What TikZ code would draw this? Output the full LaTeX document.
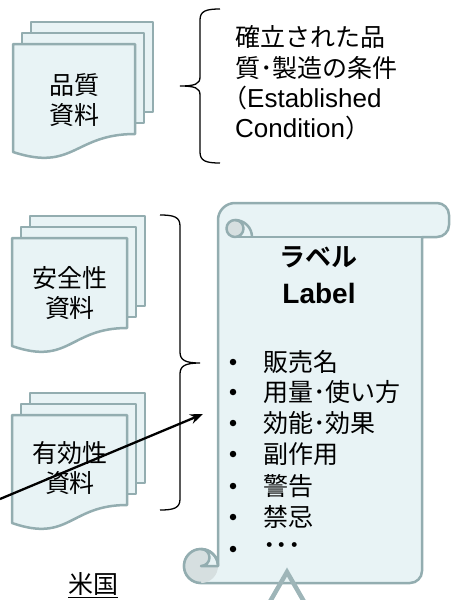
\documentclass[tikz,border=0pt]{standalone}
\usepackage{fontspec}
\setmainfont{Liberation Sans}
\newfontfamily\jp{Noto Sans CJK JP}[BoldFont={Noto Sans CJK JP Bold}]
\usetikzlibrary{arrows.meta}
\definecolor{docfill}{HTML}{E8F3F5}
\definecolor{docline}{HTML}{93ADB0}
\definecolor{curlfill}{HTML}{D6DFE0}
\newcommand\mydocstack[3]{%
  \filldraw[pagesty] (#1+18,#2-22) rectangle (#1+18+#3,#2+68);
  \filldraw[pagesty] (#1+9,#2-11) rectangle (#1+9+#3,#2+79);
  \filldraw[pagesty] (#1,#2) -- (#1+#3,#2) -- (#1+#3,#2+90)
    .. controls (#1+#3/2,#2+90) and (#1+#3/2,#2+128) .. (#1,#2+108) -- cycle;
}
\begin{document}
\begin{tikzpicture}[x=1pt,y=-1pt,
  pagesty/.style={fill=docfill,draw=docline,line width=2.5pt,line join=round},
  scrollsty/.style={fill=docfill,draw=docline,line width=2.5pt,line join=round},
  curlsty/.style={fill=curlfill,draw=docline,line width=2.5pt,line join=round},
  jptext/.style={font=\jp\fontsize{25}{30}\selectfont,inner sep=0pt},
  entext/.style={font=\fontsize{26}{30}\selectfont,inner sep=0pt},
  bracesty/.style={draw=black,line width=1.3pt},
  bulletdot/.style={circle,fill=black,inner sep=0pt,minimum size=6.5pt},
  ]
\useasboundingbox (0,0) rectangle (451,600);

% document stacks
\mydocstack{13}{44}{122}
\mydocstack{12}{238}{115}
\mydocstack{12}{415}{115}

\node[jptext] (q1) at (74,85) {品質};
\node[jptext] (q2) at (74,115) {資料};
\node[jptext] (s1) at (70,278) {安全性};
\node[jptext] (s2) at (70,308) {資料};
\node[jptext] (e1) at (70,453) {有効性};
\node[jptext] (e2) at (70,483) {資料};

% brace 1
\draw[bracesty] (220,9) .. controls (206,9) and (200,11) .. (200,20) -- (200,77)
  .. controls (200,84) and (195,86) .. (180,86)
  .. controls (195,86) and (200,88) .. (200,95) -- (200,152)
  .. controls (200,161) and (206,163) .. (220,163);
% brace 2
\draw[bracesty] (160,215) .. controls (174,215) and (180,217) .. (180,226) -- (180,352)
  .. controls (180,360) and (185,363) .. (200,363)
  .. controls (185,363) and (180,366) .. (180,374) -- (180,499)
  .. controls (180,508) and (174,510) .. (160,510);

\node[jptext,anchor=west] (c1) at (235,37) {確立された品};
\node[jptext,anchor=west] (c2) at (235,68) {質･製造の条件};
\node[entext,anchor=west] (c3) at (222,98) {{\jp\fontsize{25}{30}\selectfont （}Established};
\node[entext,anchor=west] (c4) at (235,128) {Condition{\jp\fontsize{25}{30}\selectfont ）}};

% scroll
\draw[scrollsty] (218,566) -- (218,220) arc[start angle=180,end angle=270,radius=17]
  -- (437,203) arc[start angle=270,end angle=360,radius=12]
  -- (449,225) arc[start angle=0,end angle=90,radius=12]
  -- (422,237) -- (422,571) arc[start angle=0,end angle=90,radius=12]
  -- (201,583) arc[start angle=90,end angle=360,radius=17] -- cycle;
\draw[docline,line width=2.5pt] (235,237) -- (422,237);
% top curl
\draw[curlsty] (235,228.5) circle[radius=8.5];
\draw[docline,line width=2.5pt] (235,220) arc[start angle=270,end angle=360,radius=17];
% bottom curl
\fill[curlfill] (201,583) arc[start angle=90,end angle=270,radius=17]
  arc[start angle=270,end angle=450,radius=8.5] -- (218,566)
  arc[start angle=0,end angle=90,radius=17] -- cycle;
\draw[docline,line width=2.5pt] (201,583) arc[start angle=90,end angle=360,radius=17];
\draw[docline,line width=2.5pt,line join=round] (201,549) arc[start angle=270,end angle=450,radius=8.5] -- (218,566);

\node[font=\jp\bfseries\fontsize{26}{30}\selectfont,inner sep=0pt] (lbl1) at (318,257) {ラベル};
\node[font=\bfseries\fontsize{28}{30}\selectfont,inner sep=0pt,anchor=base] (lbl2) at (319,303) {Label};

\node[bulletdot] (b1) at (233,362) {};
\node[bulletdot] (b2) at (233,392) {};
\node[bulletdot] (b3) at (233,423) {};
\node[bulletdot] (b4) at (233,454) {};
\node[bulletdot] (b5) at (233,486) {};
\node[bulletdot] (b6) at (233,517) {};
\node[bulletdot] (b7) at (233,549) {};
\node[jptext,anchor=west] (t1) at (263,362) {販売名};
\node[jptext,anchor=west] (t2) at (263,392) {用量･使い方};
\node[jptext,anchor=west] (t3) at (263,423) {効能･効果};
\node[jptext,anchor=west] (t4) at (263,454) {副作用};
\node[jptext,anchor=west] (t5) at (263,486) {警告};
\node[jptext,anchor=west] (t6) at (263,517) {禁忌};
\node[jptext,anchor=west] (t7) at (263,549) {\bfseries ･･･};

% triangle
\draw[color=docline!90!white,line width=4.5pt,line join=miter] (264,612) -- (287,572) -- (310,612);

\node[jptext] (usa) at (93,585) {\underline{米国}};

% arrow
\coordinate (arrfrom) at (0,499);
\coordinate (arrto) at (203,414);
\draw[line width=2.3pt,-{Stealth[length=13pt,width=10pt]}] (arrfrom) -- (arrto);
\end{tikzpicture}
\end{document}
